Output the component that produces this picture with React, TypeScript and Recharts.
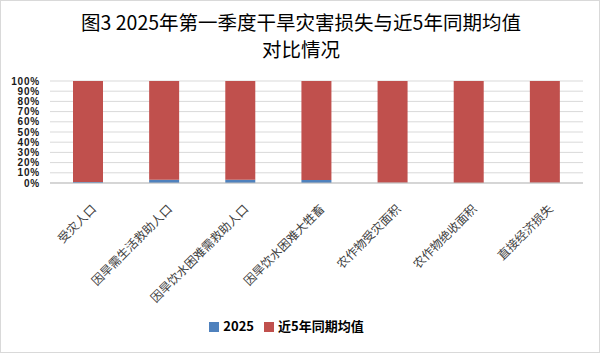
import React from "react";
import { BarChart, Bar, XAxis, YAxis, CartesianGrid, Legend } from "recharts";

const categories = [
  "受灾人口",
  "因旱需生活救助人口",
  "因旱饮水困难需救助人口",
  "因旱饮水困难大牲畜",
  "农作物受灾面积",
  "农作物绝收面积",
  "直接经济损失",
];
const share2025 = [1, 3.2, 3.2, 3, 0.2, 0.1, 0.2];
const shareAvg5 = [99, 96.8, 96.8, 97, 99.8, 99.9, 99.8];
const yTicks = [0, 10, 20, 30, 40, 50, 60, 70, 80, 90, 100];
const seriesNames = ["2025", "近5年同期均值"];
const titleLines = ["图3 2025年第一季度干旱灾害损失与近5年同期均值", "对比情况"];

const data = categories.map((c, i) => ({ name: c, a: share2025[i], b: shareAvg5[i] }));

const XTick = (props: any) => {
  const { x, y, payload } = props;
  return (
    <g transform={`translate(${x + 6},${y + 16})`}>
      <text
        transform="rotate(-45)"
        textAnchor="end"
        fontSize={12}
        fill="#404040"
        fontFamily="'Noto Sans CJK SC', sans-serif"
        dy={4}
      >
        {payload.value}
      </text>
    </g>
  );
};

const titleStyle: React.CSSProperties = {
  position: "absolute",
  left: 0,
  width: 600,
  textAlign: "center",
  fontFamily: "'Noto Sans CJK SC', sans-serif",
  fontSize: 19.5,
  lineHeight: "20px",
  color: "#000",
  whiteSpace: "nowrap",
};

export default function App() {
  return (
    <div
      style={{
        position: "absolute",
        left: 0,
        top: 0,
        width: 598,
        height: 351,
        border: "1px solid #D9D9D9",
        background: "#fff",
        overflow: "hidden",
      }}
    >
      <div style={{ ...titleStyle, top: 11 }}>{titleLines[0]}</div>
      <div style={{ ...titleStyle, top: 38 }}>{titleLines[1]}</div>
      <BarChart
        width={600}
        height={353}
        data={data}
        margin={{ top: 81, right: 17, bottom: 17, left: 0 }}
        barSize={30}
        style={{ position: "absolute", left: -1, top: -1 }}
      >
        <CartesianGrid vertical={false} stroke="#D9D9D9" />
        <XAxis
          dataKey="name"
          interval={0}
          tick={<XTick />}
          tickLine={false}
          axisLine={{ stroke: "#BFBFBF" }}
          height={133}
        />
        <YAxis
          domain={[0, 100]}
          ticks={yTicks}
          interval={0}
          tickFormatter={(v: number) => `${v}%`}
          tickLine={false}
          axisLine={false}
          width={50}
          tickMargin={4}
          tick={{ fontSize: 10, fontWeight: "bold", letterSpacing: 0.8, fill: "#1a1a1a", fontFamily: "'Liberation Sans', Arial, sans-serif" }}
        />
        <Legend
          verticalAlign="bottom"
          height={20}
          iconType="square"
          iconSize={10}
          formatter={(value: string) => (
            <span style={{ color: "#000", fontWeight: "bold", fontSize: 13, fontFamily: "'Noto Sans CJK SC', sans-serif" }}>
              {value}
            </span>
          )}
        />
        <Bar dataKey="a" name={seriesNames[0]} stackId="s" fill="#4F81BD" isAnimationActive={false} />
        <Bar dataKey="b" name={seriesNames[1]} stackId="s" fill="#C0504D" isAnimationActive={false} />
      </BarChart>
    </div>
  );
}
